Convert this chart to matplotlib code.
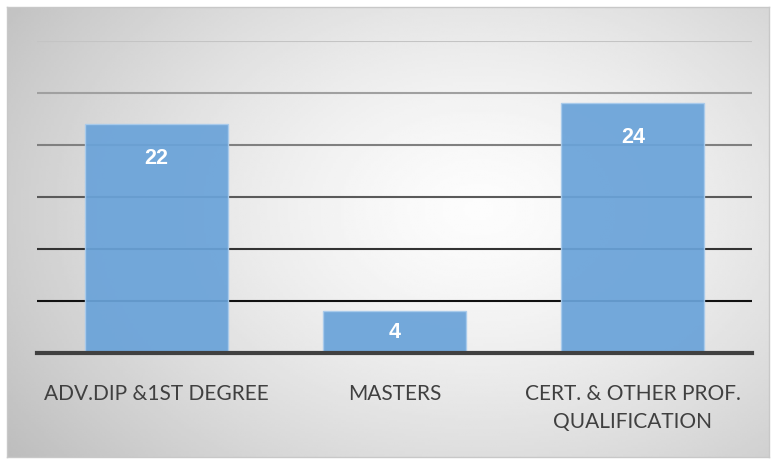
import numpy as np
import matplotlib
matplotlib.use('Agg')
import matplotlib.pyplot as plt

categories = ['ADV.DIP &1ST DEGREE', 'MASTERS', 'CERT. & OTHER PROF.\nQUALIFICATION']
values = [22, 4, 24]
grid_ticks = [5, 10, 15, 20, 25, 30]
grid_colors = ['#111111', '#333333', '#5a5a5a', '#808080', '#a0a0a0', '#c4c4c4']

W, H = 774, 462
fig = plt.figure(figsize=(W / 100, H / 100), dpi=100)

# background frame with radial gradient
bg = fig.add_axes([7 / W, 1 - 457 / H, 762 / W, 450 / H])
yy, xx = np.mgrid[0:1:200j, 0:1:300j]
r = np.sqrt(((xx - 0.62) / 0.75) ** 2 + ((yy - 0.45) / 0.9) ** 2)
shade = np.clip(0.99 - 0.24 * r ** 1.4, 0, 1)
bg.imshow(shade, cmap='gray', vmin=0, vmax=1, aspect='auto', extent=[0, 1, 0, 1])
bg.set_xticks([])
bg.set_yticks([])
for s in bg.spines.values():
    s.set_color('#c8c8c8')
    s.set_linewidth(1)

# plot area
ax = fig.add_axes([37 / W, 1 - 353 / H, 715 / W, 312 / H])
ax.patch.set_alpha(0)
ax.set_xlim(-0.5, 2.5)
ax.set_ylim(0, 30)
for t, c in zip(grid_ticks, grid_colors):
    ax.axhline(t, color=c, lw=1.5, zorder=1)

x = np.arange(len(categories))
bars = ax.bar(x, values, width=0.6, color='#6aa3d9', edgecolor='#a9cbec',
              linewidth=1, alpha=0.93, zorder=2)
ax.axhline(0, color='#404040', lw=3, zorder=3, clip_on=False)

for b, v in zip(bars, values):
    y = v - 3.3 if v > 6 else v / 2
    ax.text(b.get_x() + b.get_width() / 2, y, str(v), ha='center', va='center',
            color='white', fontsize=15.5, fontweight='bold',
            family='Liberation Sans', zorder=4)

ax.set_xticks(x)
ax.set_xticklabels(categories, fontsize=15, color='#404040', family='Lato',
                   linespacing=1.55)
ax.tick_params(axis='x', length=0, pad=22)
ax.set_yticks([])
for s in ax.spines.values():
    s.set_visible(False)

fig.savefig('out.png', dpi=100)
